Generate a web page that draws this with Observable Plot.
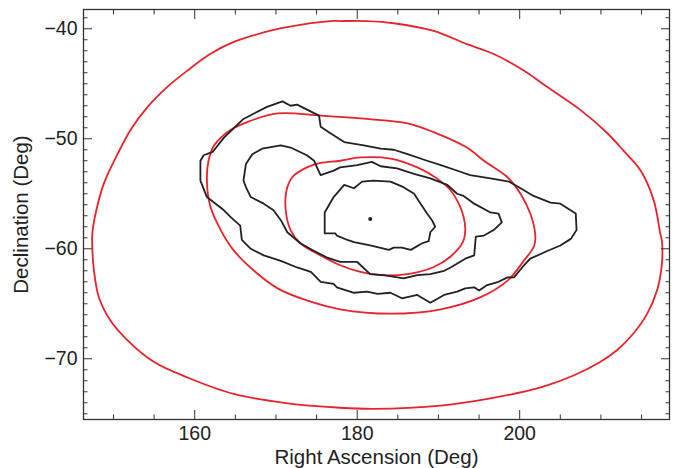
<!DOCTYPE html>
<html>
<head>
<meta charset="utf-8">
<script src="https://cdn.jsdelivr.net/npm/d3@7"></script>
<script src="https://cdn.jsdelivr.net/npm/@observablehq/plot@0.6"></script>
<style>
  html, body { margin: 0; padding: 0; background: #fff; }
</style>
</head>
<body>
<div id="chart"></div>
<script>
// Axis ticks (degrees)
const raMajor = [160, 180, 200];
const raMinor = [150, 155, 165, 170, 175, 185, 190, 195, 205, 210, 215];
const decMajor = [-70, -60, -50, -40];
const decMinor = [-75, -74, -73, -72, -71, -69, -68, -67, -66, -65, -64, -63, -62, -61,
                  -59, -58, -57, -56, -55, -54, -53, -52, -51, -49, -48, -47, -46, -45,
                  -44, -43, -42, -41, -39];
const xLabel = "Right Ascension (Deg)";
const yLabel = "Declination (Deg)";

// Red contours [RA, Dec]
const redOuter = [
  [177.9, -39.3], [176.7, -39.3], [171.0, -39.9], [167.7, -40.5], [164.8, -41.2], [161.9, -42.3],
  [159.1, -43.8], [156.6, -45.3], [154.2, -47.1], [152.1, -49.2], [150.5, -51.4], [148.8, -54.1],
  [147.8, -56.8], [147.4, -58.6], [147.4, -60.0], [147.6, -62.0], [148.2, -64.4], [149.6, -66.5],
  [151.7, -68.3], [155.0, -70.3], [159.1, -71.7], [164.8, -73.2], [171.0, -74.0], [177.9, -74.45],
  [182.0, -74.55], [190.3, -74.25], [196.4, -73.6], [202.6, -72.6], [206.7, -71.5], [209.9, -70.3],
  [212.0, -69.2], [214.0, -67.7], [215.7, -65.9], [216.9, -63.8], [217.5, -61.4], [217.5, -59.25],
  [217.3, -58.6], [216.5, -55.6], [214.9, -52.9], [212.8, -51.1], [210.8, -49.5], [207.5, -47.4],
  [203.4, -45.3], [200.5, -43.8], [196.8, -42.3], [193.5, -41.4], [189.4, -40.2], [184.5, -39.5],
  [181.2, -39.3]
];
const redMiddle = [
  [170.2, -47.7], [175.5, -47.9], [181.2, -48.2], [186.2, -48.6], [189.4, -49.4], [193.5, -50.8],
  [195.6, -52.0], [198.5, -53.5], [200.1, -55.0], [201.3, -56.8], [201.9, -58.6], [201.8, -59.7],
  [200.5, -61.1], [198.5, -62.9], [195.2, -64.4], [190.3, -65.5], [184.1, -65.9], [177.9, -65.5],
  [173.8, -64.7], [170.2, -63.6], [167.3, -62.0], [164.8, -60.15], [163.2, -58.3], [161.9, -56.1],
  [161.5, -53.8], [161.7, -52.0], [162.4, -50.6], [164.4, -49.2], [166.4, -48.5]
];
const redInner = [
  [177.9, -52.0], [180.4, -51.7], [184.1, -51.8], [187.4, -52.6], [189.8, -53.6], [191.5, -54.7],
  [192.5, -55.9], [193.1, -57.1], [193.3, -58.3], [193.0, -59.4], [191.5, -60.7], [189.3, -61.7],
  [186.2, -62.3], [182.9, -62.4], [180.4, -62.1], [177.9, -61.5], [175.1, -60.45], [173.0, -59.5],
  [171.8, -58.3], [171.2, -56.5], [171.3, -54.7], [172.0, -53.5], [173.8, -52.6], [175.5, -52.2]
];

// Black contours [RA, Dec]
const blackOuter = [
  [160.7, -53.8], [160.7, -52.0], [161.1, -51.5], [162.2, -51.2], [163.6, -49.9], [166.0, -48.2],
  [167.3, -47.7], [168.9, -47.1], [170.8, -46.6], [171.8, -47.0], [172.6, -46.9], [175.3, -47.9],
  [175.5, -48.9], [176.7, -49.5], [178.4, -50.3], [180.8, -50.6], [182.9, -50.9], [184.5, -51.0],
  [186.2, -51.4], [188.6, -52.0], [190.3, -52.4], [192.7, -53.0], [193.9, -53.3], [196.4, -53.6],
  [198.7, -53.9], [199.9, -54.4], [201.7, -55.2], [203.8, -55.8], [205.0, -55.9], [206.9, -56.8],
  [207.0, -58.3], [206.3, -59.1], [205.0, -59.7], [203.4, -60.2], [201.3, -60.9], [200.3, -61.7],
  [199.3, -62.6], [198.5, -62.6], [197.4, -63.0], [196.0, -63.3], [195.0, -63.8], [194.4, -63.5],
  [193.3, -63.6], [192.3, -63.9], [190.7, -64.2], [189.0, -64.9], [187.4, -64.2], [185.5, -64.5],
  [184.1, -64.0], [182.5, -64.1], [181.2, -63.9], [179.6, -64.0], [177.5, -63.5], [177.1, -63.2],
  [175.5, -63.0], [174.3, -62.1], [172.6, -61.7], [170.6, -61.1], [168.5, -60.6], [166.9, -60.0],
  [165.8, -59.2], [165.6, -57.9], [164.4, -57.1], [163.6, -56.5], [161.5, -55.3]
];
const blackMiddle = [
  [166.0, -53.8], [166.3, -52.3], [167.1, -51.4], [168.3, -50.9], [170.6, -50.6], [171.8, -50.8],
  [173.8, -51.5], [174.7, -52.0], [175.3, -53.0], [175.5, -53.3], [177.1, -52.9], [177.9, -52.6],
  [180.0, -52.4], [181.8, -52.1], [182.9, -52.5], [184.9, -52.7], [187.0, -53.2], [189.0, -53.6],
  [191.1, -54.2], [192.3, -55.0], [193.1, -55.2], [194.4, -55.9], [196.4, -56.7], [197.4, -56.8],
  [197.8, -57.6], [196.8, -58.3], [195.6, -58.8], [194.6, -58.9], [194.4, -60.6], [193.3, -60.9],
  [191.5, -61.7], [190.7, -62.0], [189.0, -62.3], [187.4, -62.4], [185.7, -62.7], [183.3, -62.4],
  [181.6, -62.3], [180.0, -61.2], [177.9, -61.2], [176.3, -60.8], [174.7, -60.2], [173.0, -59.5],
  [171.4, -58.5], [170.6, -57.4], [169.7, -56.5], [168.5, -55.9], [166.9, -55.3], [166.3, -54.4]
];
const blackInner = [
  [176.0, -58.6], [176.0, -56.7], [177.1, -55.3], [178.4, -54.2], [179.6, -54.5], [180.6, -53.9],
  [182.0, -53.8], [184.1, -53.9], [185.7, -54.4], [187.0, -55.0], [187.8, -55.9], [188.6, -56.8],
  [189.2, -57.4], [189.6, -58.0], [189.0, -58.5], [188.8, -59.3], [188.0, -59.5], [186.6, -60.1],
  [185.5, -59.9], [184.5, -59.9], [183.9, -60.1], [181.6, -59.7], [179.6, -59.4], [178.8, -59.2],
  [177.5, -58.8], [177.3, -58.6]
];
const peak = [[181.6, -57.3]];

const RED = "#e8232b";
const INK = "#222222";
const ra = d => d[0], dec = d => d[1];

const chart = Plot.plot({
  width: 681,
  height: 468,
  marginLeft: 83,
  marginRight: 12,
  marginTop: 9,
  marginBottom: 49,
  style: {
    fontFamily: "'Liberation Sans', Arial, Helvetica, sans-serif",
    fontSize: "19.5px",
    color: INK,
    background: "#ffffff",
    overflow: "visible"
  },
  x: {domain: [146.31, 218.44]},
  y: {domain: [-75.52, -38.25]},
  marks: [
    // contours
    Plot.line(redOuter, {x: ra, y: dec, stroke: RED, strokeWidth: 1.8, curve: "catmull-rom-closed"}),
    Plot.line(redMiddle, {x: ra, y: dec, stroke: RED, strokeWidth: 1.8, curve: "catmull-rom-closed"}),
    Plot.line(redInner, {x: ra, y: dec, stroke: RED, strokeWidth: 1.8, curve: "catmull-rom-closed"}),
    Plot.line(blackOuter, {x: ra, y: dec, stroke: INK, strokeWidth: 1.8, curve: "linear-closed"}),
    Plot.line(blackMiddle, {x: ra, y: dec, stroke: INK, strokeWidth: 1.8, curve: "linear-closed"}),
    Plot.line(blackInner, {x: ra, y: dec, stroke: INK, strokeWidth: 1.8, curve: "linear-closed"}),
    Plot.dot(peak, {x: ra, y: dec, r: 2, fill: INK, stroke: null}),
    // frame
    Plot.frame({stroke: "#333", strokeWidth: 1.3}),
    // inward ticks: bottom / top
    Plot.axisX(raMajor, {anchor: "bottom", tickSize: 9, dy: -9, fill: "none", label: null, stroke: "#333"}),
    Plot.axisX(raMinor, {anchor: "bottom", tickSize: 4.5, dy: -4.5, fill: "none", label: null, stroke: "#333"}),
    Plot.axisX(raMajor, {anchor: "top", tickSize: 9, dy: 9, fill: "none", label: null, stroke: "#333"}),
    Plot.axisX(raMinor, {anchor: "top", tickSize: 4.5, dy: 4.5, fill: "none", label: null, stroke: "#333"}),
    // inward ticks: left / right
    Plot.axisY(decMajor, {anchor: "left", tickSize: 9, dx: 9, fill: "none", label: null, stroke: "#333"}),
    Plot.axisY(decMinor, {anchor: "left", tickSize: 4.5, dx: 4.5, fill: "none", label: null, stroke: "#333"}),
    Plot.axisY(decMajor, {anchor: "right", tickSize: 9, dx: -9, fill: "none", label: null, stroke: "#333"}),
    Plot.axisY(decMinor, {anchor: "right", tickSize: 4.5, dx: -4.5, fill: "none", label: null, stroke: "#333"}),
    // tick labels
    Plot.axisX(raMajor, {anchor: "bottom", tickSize: 0, tickPadding: 7, label: null, fill: INK}),
    Plot.axisY(decMajor, {anchor: "left", tickSize: 0, tickPadding: 6, label: null, fill: INK}),
    // axis titles
    Plot.text([xLabel], {text: d => d, frameAnchor: "bottom", dy: 44, lineAnchor: "bottom", textAnchor: "middle", fill: INK, fontSize: 20.5}),
    Plot.text([yLabel], {text: d => d, frameAnchor: "left", dx: -55.5, rotate: -90, lineAnchor: "bottom", textAnchor: "middle", fill: INK, fontSize: 20.5})
  ]
});
document.getElementById("chart").appendChild(chart);
</script>
</body>
</html>
